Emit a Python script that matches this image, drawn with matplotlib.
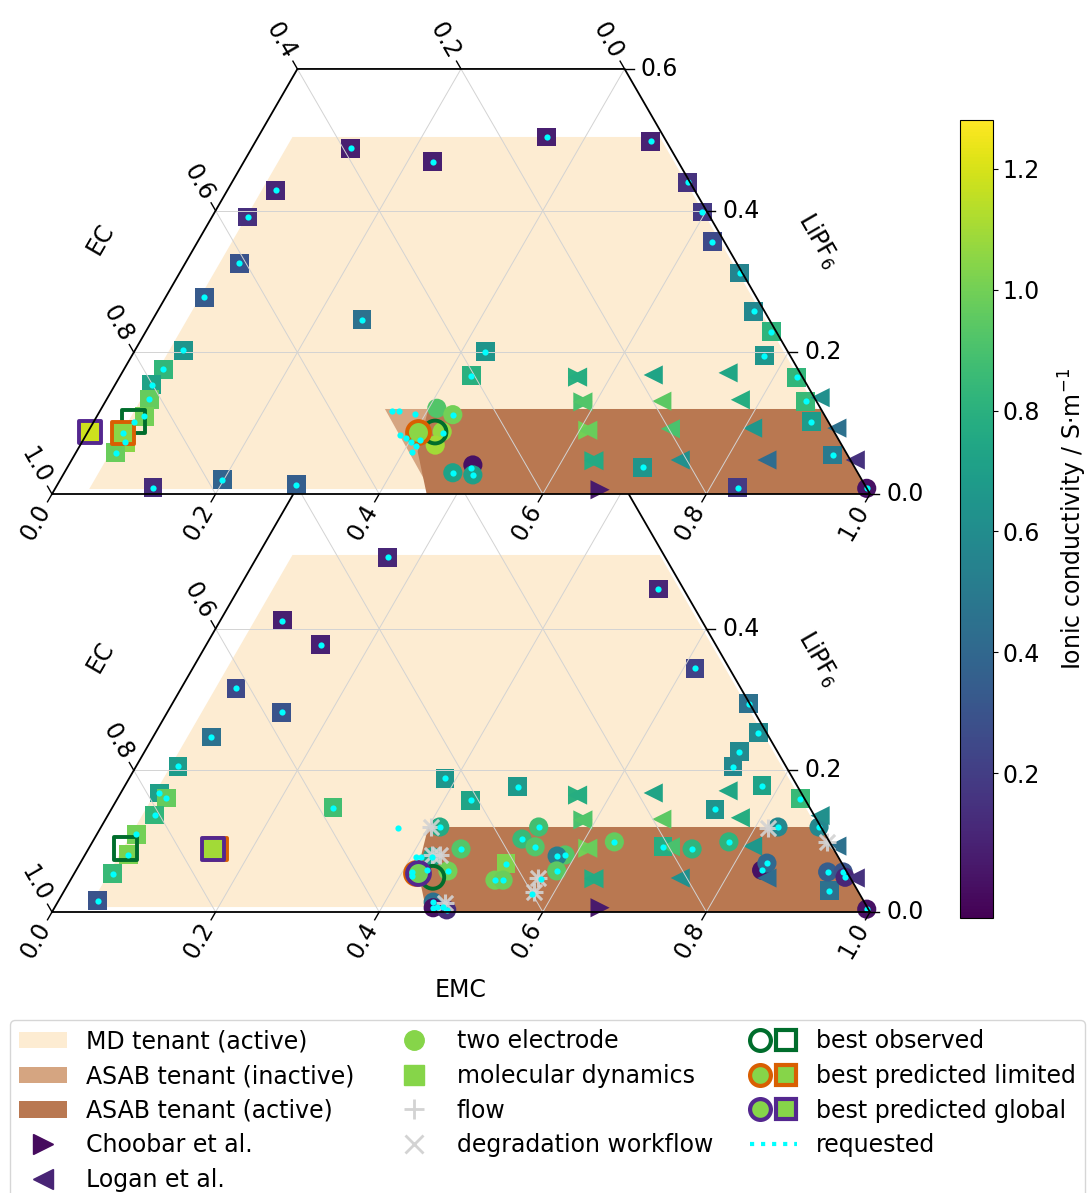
import numpy as np
import matplotlib.pyplot as plt
from matplotlib.patches import Patch
from matplotlib.lines import Line2D
from matplotlib.legend_handler import HandlerTuple
from matplotlib.colors import Normalize
from matplotlib.cm import ScalarMappable

plt.rcParams['font.size'] = 17

# compositions as (EMC, LiPF6) fractions, EC = 1 - EMC - LiPF6; sigma = ionic conductivity

# literature data (same in both panels)
choobar_emc = [0.560, 0.584, 0.610, 0.639, 0.667]
choobar_lipf6 = [0.165, 0.130, 0.090, 0.047, 0.006]
choobar_sigma = [0.80, 0.90, 1.00, 0.78, 0.05]

logan_emc = [0.560, 0.584, 0.610, 0.639, 0.651, 0.680, 0.710, 0.744, 0.741, 0.775,
             0.810, 0.850, 0.871, 0.913, 0.958]
logan_lipf6 = [0.165, 0.130, 0.090, 0.047, 0.168, 0.131, 0.092, 0.048, 0.171, 0.133,
               0.093, 0.048, 0.136, 0.093, 0.048]
logan_sigma = [0.78, 0.92, 0.98, 0.76, 0.73, 0.95, 0.90, 0.62, 0.74, 0.78,
               0.66, 0.42, 0.62, 0.45, 0.15]

# top panel
top_md_emc = [0.059, 0.044, 0.066, 0.047, 0.121, 0.231, 0.353, 0.256, 0.483, 0.557,
              0.596, 0.629, 0.685, 0.729, 0.765, 0.773, 0.828, 0.856, 0.877, 0.927,
              0.703, 0.834, 0.429, 0.429, 0.059, 0.048, 0.045, 0.052, 0.058, 0.053,
              0.049, 0.119, 0.198, 0.292]
top_md_lipf6 = [0.429, 0.391, 0.326, 0.278, 0.488, 0.469, 0.504, 0.246, 0.498, 0.440,
                0.398, 0.356, 0.312, 0.258, 0.229, 0.195, 0.165, 0.131, 0.102, 0.055,
                0.038, 0.009, 0.201, 0.167, 0.203, 0.176, 0.154, 0.134, 0.110, 0.073,
                0.058, 0.009, 0.020, 0.013]
top_md_sigma = [0.10, 0.14, 0.30, 0.33, 0.07, 0.07, 0.07, 0.45, 0.08, 0.15,
                0.18, 0.25, 0.55, 0.57, 0.82, 0.65, 0.83, 0.85, 0.68, 0.50,
                0.65, 0.18, 0.65, 0.80, 0.65, 0.83, 0.72, 0.97, 1.00, 1.05,
                0.98, 0.12, 0.38, 0.35]

top_te_emc = [0.410, 0.434, 0.433, 0.434, 0.406, 0.494, 0.475, 0.501, 0.992]
top_te_lipf6 = [0.121, 0.112, 0.088, 0.069, 0.088, 0.041, 0.030, 0.027, 0.008]
top_te_sigma = [0.92, 1.00, 1.07, 1.10, 1.05, 0.02, 0.72, 0.70, 0.02]

top_req_emc = [0.357, 0.366, 0.387, 0.435, 0.384, 0.393, 0.402, 0.411, 0.412, 0.4105,
               0.434, 0.475, 0.501, 0.494, 0.992]
top_req_lipf6 = [0.117, 0.117, 0.113, 0.086, 0.083, 0.079, 0.073, 0.068, 0.076, 0.059,
                 0.112, 0.030, 0.027, 0.037, 0.008]

top_obs_sq = (0.049, 0.102)
top_obs_ci = (0.4245, 0.0875)
top_lim_sq = (0.044, 0.086, 1.05)
top_lim_ci = (0.404, 0.0875, 1.05)
top_glob_sq = (0.003, 0.0875, 1.18)

# bottom panel
bot_md_emc = [0.160, 0.076, 0.140, 0.067, 0.140, 0.071, 0.051, 0.047, 0.059, 0.057,
              0.048, 0.053, 0.047, 0.048, 0.270, 0.386, 0.433, 0.481, 0.521, 0.513,
              0.614, 0.705, 0.737, 0.727, 0.730, 0.779, 0.738, 0.835, 0.701, 0.935]
bot_md_lipf6 = [0.501, 0.411, 0.377, 0.316, 0.282, 0.247, 0.206, 0.168, 0.161, 0.137,
                0.110, 0.081, 0.054, 0.016, 0.147, 0.189, 0.158, 0.177, 0.068, 0.456,
                0.344, 0.294, 0.253, 0.226, 0.205, 0.178, 0.145, 0.160, 0.092, 0.030]
bot_md_sigma = [0.10, 0.07, 0.08, 0.25, 0.30, 0.45, 0.68, 0.70, 0.97, 0.83,
                1.00, 1.02, 0.85, 0.30, 0.88, 0.65, 0.73, 0.67, 1.03, 0.10,
                0.22, 0.45, 0.58, 0.58, 0.57, 0.72, 0.64, 0.85, 0.78, 0.45]

bot_te_emc = [0.414, 0.4555, 0.455, 0.426, 0.535, 0.523, 0.5446, 0.587, 0.578, 0.588,
              0.519, 0.529, 0.638, 0.738, 0.778, 0.8275, 0.8777, 0.838, 0.8395, 0.920,
              0.939, 0.945, 0.994, 0.459, 0.463, 0.481]
bot_te_lipf6 = [0.120, 0.089, 0.058, 0.078, 0.120, 0.103, 0.092, 0.0805, 0.079, 0.058,
                0.045, 0.045, 0.099, 0.089, 0.099, 0.120, 0.120, 0.059, 0.069, 0.0565,
                0.0565, 0.049, 0.004, 0.014, 0.006, 0.003]
bot_te_sigma = [0.76, 0.93, 1.00, 0.72, 0.88, 0.85, 0.93, 0.93, 0.52, 0.95,
                1.00, 0.98, 0.97, 0.82, 0.82, 0.57, 0.57, 0.02, 0.40, 0.35,
                0.30, 0.10, 0.02, 0.45, 0.02, 0.12]

bot_grey_emc = [0.403, 0.434, 0.424, 0.570, 0.575, 0.474, 0.816, 0.898]
bot_grey_lipf6 = [0.120, 0.081, 0.081, 0.048, 0.028, 0.013, 0.119, 0.099]

bot_req_emc = [0.364, 0.406, 0.412, 0.429, 0.412, 0.415, 0.5745, 0.574, 0.467, 0.4745]
bot_req_lipf6 = [0.119, 0.078, 0.078, 0.059, 0.057, 0.051, 0.047, 0.025, 0.007, 0.007]

bot_obs_sq = (0.045, 0.090)
bot_obs_ci = (0.441, 0.049)
bot_lim_sq = (0.156, 0.089, 1.10)
bot_lim_ci = (0.4175, 0.055, 1.00)
bot_glob_sq = (0.152, 0.089, 1.10)
bot_glob_ci = (0.420, 0.055, 1.00)

# regions (EMC, LiPF6 vertices)
md_region = ([0.042, 0.042, 0.491, 0.988], [0.007, 0.504, 0.504, 0.007])
asab_inactive = ([0.347, 0.88, 1.0, 0.465], [0.12, 0.12, 0.0, 0.0])
asab_active = ([0.400, 0.88, 1.0, 0.458, 0.417], [0.12, 0.12, 0.0, 0.0, 0.06])

ticks = [0.0, 0.2, 0.4, 0.6, 0.8, 1.0]

beige = '#fdecd2'
tan = '#d5a581'
brown = '#b97851'
c_obs = '#006d2c'
c_lim = '#d95f02'
c_glob = '#54278f'
norm = Normalize(-0.04, 1.281)
cmap = plt.cm.viridis

S3 = np.sqrt(3) / 2


def tern(emc, lipf6):
    emc = np.asarray(emc, float)
    lipf6 = np.asarray(lipf6, float)
    return emc + lipf6 / 2, lipf6 * S3


W, H = 1089, 1193
SC = 818.0
fig = plt.figure(figsize=(W / 100, H / 100), dpi=100)


def make_ax(x0, y0):
    xl, yl = (-0.06, 1.06), (-0.06, 0.58)
    left = x0 + xl[0] * SC
    bot = y0 - yl[0] * SC
    ax = fig.add_axes([left / W, 1 - bot / H, (xl[1] - xl[0]) * SC / W, (yl[1] - yl[0]) * SC / H])
    ax.set_xlim(xl)
    ax.set_ylim(yl)
    ax.axis('off')
    return ax


def frame(ax, emc_label, regions):
    for reg, col in regions:
        x, y = tern(*reg)
        ax.fill(x, y, color=col, lw=0, zorder=0.5)
    for v in [0.2, 0.4, 0.6, 0.8]:
        x, y = tern([v, v], [0, min(0.6, 1 - v)])
        ax.plot(x, y, color='#d3d3d3', lw=0.7, zorder=1.5)
        x, y = tern([1 - v, max(0.0, 0.4 - v)], [0, min(0.6, 1 - v)])
        ax.plot(x, y, color='#d3d3d3', lw=0.7, zorder=1.5)
    for v in [0.2, 0.4]:
        x, y = tern([0, 1 - v], [v, v])
        ax.plot(x, y, color='#d3d3d3', lw=0.7, zorder=1.5)
    x, y = tern([0, 1, 0.4, 0, 0], [0, 0, 0.6, 0.6, 0])
    ax.plot(x, y, color='black', lw=1.3, zorder=5, solid_joinstyle='miter')

    tl, lo = 0.011, 0.04
    d_emc = np.array([-0.5, -S3])
    d_ec = np.array([-0.5, S3])
    for v in ticks:
        x, y = tern(v, 0)
        ax.plot([x, x + tl * d_emc[0]], [y, y + tl * d_emc[1]], color='black', lw=1, clip_on=False)
        ax.text(x + lo * d_emc[0], y + lo * d_emc[1], f'{v:.1f}', rotation=60,
                ha='center', va='center', clip_on=False)
        if v >= 0.4:
            x, y = tern(0, 1 - v)
        else:
            x, y = tern(0.4 - v, 0.6)
        ax.plot([x, x + tl * d_ec[0]], [y, y + tl * d_ec[1]], color='black', lw=1, clip_on=False)
        ax.text(x + lo * d_ec[0], y + lo * d_ec[1], f'{v:.1f}', rotation=-60,
                ha='center', va='center', clip_on=False)
    for v in [0.0, 0.2, 0.4, 0.6]:
        x, y = tern(1 - v, v)
        ax.plot([x, x + tl], [y, y], color='black', lw=1, clip_on=False)
        ax.text(x + 0.02, y, f'{v:.1f}', ha='left', va='center', clip_on=False)
    ax.text(0.15 - 0.105 * S3, 0.26 + 0.105 * 0.5, 'EC', rotation=60, ha='center', va='center')
    ax.text(0.85 + 0.1 * S3, 0.26 + 0.1 * 0.5, 'LiPF$_6$', rotation=-60, ha='center', va='center')
    if emc_label:
        ax.text(0.5, -0.095, 'EMC', ha='center', va='center')


def points(ax, md, te, grey, req, obs_sq, obs_ci, lim_sq, lim_ci, glob_sq, glob_ci):
    kw = dict(cmap=cmap, norm=norm, linewidths=0, zorder=1)
    x, y = tern(md[0], md[1])
    ax.scatter(x, y, c=md[2], marker='s', s=185, **kw)
    x, y = tern(te[0], te[1])
    ax.scatter(x, y, c=te[2], marker='o', s=190, **kw)
    x, y = tern(choobar_emc, choobar_lipf6)
    ax.scatter(x, y, c=choobar_sigma, marker='>', s=190, **kw)
    x, y = tern(logan_emc, logan_lipf6)
    ax.scatter(x, y, c=logan_sigma, marker='<', s=190, **kw)
    if grey is not None:
        x, y = tern(grey[0], grey[1])
        ax.scatter(x, y, marker='+', s=170, color='lightgrey', linewidths=2.2, zorder=1, alpha=0.9)
        ax.scatter(x, y, marker='x', s=120, color='lightgrey', linewidths=2.2, zorder=1, alpha=0.9)
    bkw = dict(s=270, linewidths=2.8, zorder=2)
    x, y = tern(*obs_sq)
    ax.scatter(x, y, marker='s', facecolors='none', edgecolors=c_obs, **bkw)
    x, y = tern(*obs_ci)
    ax.scatter(x, y, marker='o', facecolors='none', edgecolors=c_obs, **bkw)
    for p, col in [(lim_sq, c_lim), (lim_ci, c_lim), (glob_sq, c_glob), (glob_ci, c_glob)]:
        if p is None:
            continue
        x, y = tern(p[0], p[1])
        mk = 's' if p in (lim_sq, glob_sq) else 'o'
        ax.scatter(x, y, marker=mk, c=[p[2]], cmap=cmap, norm=norm, edgecolors=col, **bkw)
    rx = list(md[0]) + list(req[0])
    ry = list(md[1]) + list(req[1])
    x, y = tern(rx, ry)
    ax.scatter(x, y, marker='o', s=20, color='cyan', linewidths=0, zorder=3)


ax_bot = make_ax(52, 912)
frame(ax_bot, True, [(md_region, beige), (asab_active, brown)])
points(ax_bot, (bot_md_emc, bot_md_lipf6, bot_md_sigma), (bot_te_emc, bot_te_lipf6, bot_te_sigma),
       (bot_grey_emc, bot_grey_lipf6),
       (list(bot_req_emc) + bot_te_emc, list(bot_req_lipf6) + bot_te_lipf6),
       bot_obs_sq, bot_obs_ci, bot_lim_sq, bot_lim_ci, bot_glob_sq, bot_glob_ci)

ax_top = make_ax(52, 494)
frame(ax_top, False, [(md_region, beige), (asab_inactive, tan), (asab_active, brown)])
points(ax_top, (top_md_emc, top_md_lipf6, top_md_sigma), (top_te_emc, top_te_lipf6, top_te_sigma),
       None, (top_req_emc + [top_obs_sq[0], top_lim_sq[0]], top_req_lipf6 + [top_obs_sq[1], top_lim_sq[1]]),
       top_obs_sq, top_obs_ci, top_lim_sq, top_lim_ci, top_glob_sq, None)

# colorbar
cax = fig.add_axes([960 / W, 1 - 918 / H, 33 / W, 798 / H])
cb = fig.colorbar(ScalarMappable(norm=norm, cmap=cmap), cax=cax)
cb.set_ticks([0.2, 0.4, 0.6, 0.8, 1.0, 1.2])
cb.set_label('Ionic conductivity / S$\\cdot$m$^{-1}$', labelpad=12)

# legend
green = cmap(0.82)
handles = [
    Patch(facecolor=beige),
    Patch(facecolor=tan),
    Patch(facecolor=brown),
    Line2D([], [], marker='>', ls='none', color=cmap(0.03), ms=14),
    Line2D([], [], marker='<', ls='none', color=cmap(0.1), ms=14),
    Line2D([], [], marker='o', ls='none', color=green, ms=14),
    Line2D([], [], marker='s', ls='none', color=green, ms=14),
    Line2D([], [], marker='+', ls='none', color='lightgrey', ms=14, mew=2),
    Line2D([], [], marker='x', ls='none', color='lightgrey', ms=13, mew=2),
    (Line2D([], [], marker='o', ls='none', mfc='white', mec=c_obs, ms=15, mew=3),
     Line2D([], [], marker='s', ls='none', mfc='white', mec=c_obs, ms=15, mew=3)),
    (Line2D([], [], marker='o', ls='none', mfc=green, mec=c_lim, ms=15, mew=3),
     Line2D([], [], marker='s', ls='none', mfc=green, mec=c_lim, ms=15, mew=3)),
    (Line2D([], [], marker='o', ls='none', mfc=green, mec=c_glob, ms=15, mew=3),
     Line2D([], [], marker='s', ls='none', mfc=green, mec=c_glob, ms=15, mew=3)),
    Line2D([], [], color='cyan', ls=':', lw=3),
]
labels = ['MD tenant (active)', 'ASAB tenant (inactive)', 'ASAB tenant (active)',
          'Choobar et al.', 'Logan et al.', 'two electrode', 'molecular dynamics', 'flow',
          'degradation workflow', 'best observed', 'best predicted limited',
          'best predicted global', 'requested']
fig.legend(handles, labels, loc='upper left', bbox_to_anchor=(10 / W, 1 - 1020 / H, 1075 / W, 0.0),
           mode='expand', ncol=3, labelspacing=0.45, borderaxespad=0.0,
           handler_map={tuple: HandlerTuple(ndivide=None, pad=0.2)})

fig.savefig('out.png', dpi=100)
